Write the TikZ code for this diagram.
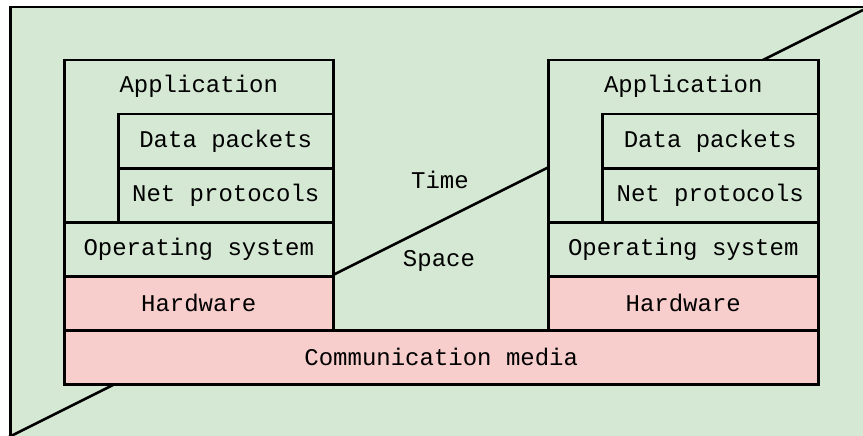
\documentclass[tikz,border=0pt]{standalone}
\usepackage{fontspec}
\setmonofont{Liberation Mono}
\usetikzlibrary{calc}
\definecolor{bggreen}{HTML}{D5E8D4}
\definecolor{hwpink}{HTML}{F8CECC}
\tikzset{
  layer/.style={draw=black, line width=2.5pt, fill=bggreen, rectangle, inner sep=0pt, anchor=north west},
  hwlayer/.style={layer, fill=hwpink},
  txt/.style={font=\ttfamily\fontsize{24}{28}\selectfont, inner sep=0pt, text=black},
}
\begin{document}
\begin{tikzpicture}[x=1pt,y=-1pt]
\useasboundingbox (0,0) rectangle (863,436);
\begin{scope}
\clip (0,0) rectangle (863,436);
\node[layer, minimum width=880pt, minimum height=450pt] (frame) at (9,6) {};
\coordinate (dl) at (9,437);
\coordinate (dr) at (863,10);
\draw[line width=2.5pt] (dl) -- (dr);
\end{scope}
% left stack
\node[layer, minimum width=269pt, minimum height=162pt] (appL) at (63,59) {};
\node[layer, minimum width=215pt, minimum height=54pt] (dataL) at (117,113) {};
\node[layer, minimum width=215pt, minimum height=54pt] (netL) at (117,167) {};
\node[layer, minimum width=269pt, minimum height=54pt] (osL) at (63,221) {};
\node[hwlayer, minimum width=269pt, minimum height=54pt] (hwL) at (63,275) {};
% right stack
\node[layer, minimum width=270pt, minimum height=162pt] (appR) at (547,59) {};
\node[layer, minimum width=216pt, minimum height=54pt] (dataR) at (601,113) {};
\node[layer, minimum width=216pt, minimum height=54pt] (netR) at (601,167) {};
\node[layer, minimum width=270pt, minimum height=54pt] (osR) at (547,221) {};
\node[hwlayer, minimum width=270pt, minimum height=54pt] (hwR) at (547,275) {};
% media
\node[hwlayer, minimum width=754pt, minimum height=54pt] (media) at (63,329) {};
% texts
\node[txt] (tappL) at ($(appL.north)+(0,27)$) {Application};
\node[txt] (tdataL) at (dataL.center) {Data packets};
\node[txt] (tnetL) at (netL.center) {Net protocols};
\node[txt] (tosL) at (osL.center) {Operating system};
\node[txt] (thwL) at (hwL.center) {Hardware};
\node[txt] (tappR) at ($(appR.north)+(0,27)$) {Application};
\node[txt] (tdataR) at (dataR.center) {Data packets};
\node[txt] (tnetR) at (netR.center) {Net protocols};
\node[txt] (tosR) at (osR.center) {Operating system};
\node[txt] (thwR) at (hwR.center) {Hardware};
\node[txt] (tmedia) at (media.center) {Communication media};
\node[txt] (time) at (440,180) {Time};
\node[txt] (space) at (439,261) {Space};
\end{tikzpicture}
\end{document}
